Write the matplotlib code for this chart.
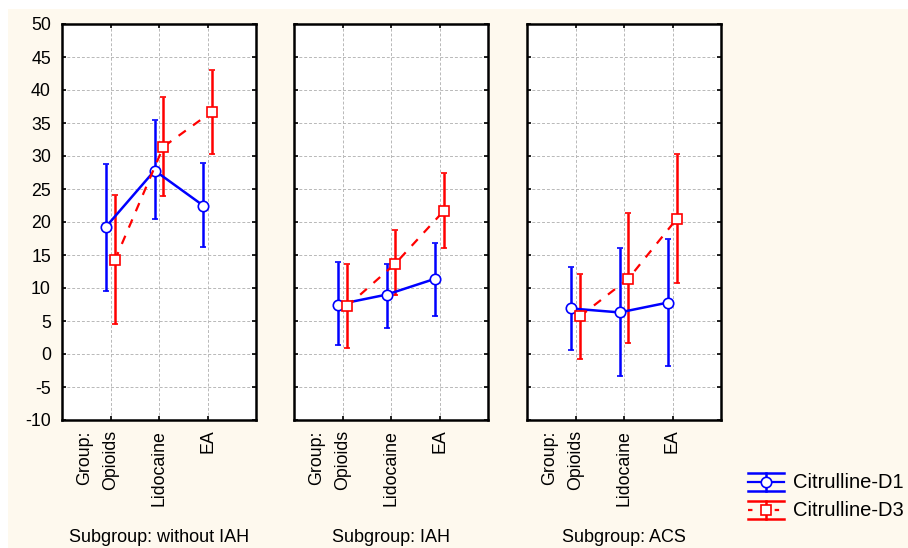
import matplotlib
matplotlib.use("Agg")
import matplotlib.pyplot as plt
import numpy as np
from matplotlib.lines import Line2D
from matplotlib.patches import Rectangle

plt.rcParams['font.family'] = ['Liberation Sans', 'DejaVu Sans']
plt.rcParams['axes.unicode_minus'] = False

# ---- data ----
categories = ["Opioids", "Lidocaine", "EA"]
subgroups = ["Subgroup: without IAH", "Subgroup: IAH", "Subgroup: ACS"]
series_names = ["Citrulline-D1", "Citrulline-D3"]

d1_mean = [[19.3, 27.8, 22.5], [7.5, 9.0, 11.4], [6.9, 6.3, 7.8]]
d1_low = [[9.5, 20.4, 16.2], [1.3, 4.0, 5.7], [0.6, -3.4, -1.8]]
d1_high = [[28.8, 35.4, 28.9], [13.9, 13.7, 16.8], [13.2, 16.0, 17.5]]

d3_mean = [[14.2, 31.4, 36.7], [7.2, 13.7, 21.7], [5.7, 11.4, 20.5]]
d3_low = [[4.6, 23.9, 30.3], [0.9, 8.9, 16.1], [-0.7, 1.7, 10.8]]
d3_high = [[24.1, 39.0, 43.1], [13.7, 18.8, 27.4], [12.1, 21.3, 30.3]]

yticks = list(range(-10, 51, 5))

W, H = 908, 548
fig = plt.figure(figsize=(W / 100, H / 100), dpi=100)
fig.patch.set_facecolor('white')
cream = '#FEF9EE'
fig.add_artist(Rectangle((8 / W, 0), 1 - 8 / W, 1 - 9 / H, transform=fig.transFigure,
                         facecolor=cream, edgecolor='none', zorder=-10))

def fx(px):
    return px / W

def fy(py):
    return 1 - py / H

panel_left = [62, 294, 527]
panel_w = 194
top_px, bot_px = 24, 420
blue, red = '#0000FF', '#FF0000'
off = 0.09
x = np.arange(len(categories))
fs_tick = 12.8

for i in range(3):
    ax = fig.add_axes([fx(panel_left[i]), fy(bot_px), panel_w / W, (bot_px - top_px) / H])
    ax.set_facecolor('white')
    m1 = np.array(d1_mean[i]); l1 = np.array(d1_low[i]); h1 = np.array(d1_high[i])
    m3 = np.array(d3_mean[i]); l3 = np.array(d3_low[i]); h3 = np.array(d3_high[i])
    ax.errorbar(x - off, m1, yerr=[m1 - l1, h1 - m1], color=blue, lw=1.8, elinewidth=1.8,
                capsize=2.5, capthick=1.8, marker='o', ms=7.5, mfc='white', mec=blue, mew=1.2,
                zorder=3)
    ax.errorbar(x + off, m3, yerr=[m3 - l3, h3 - m3], color=red, lw=1.6, elinewidth=1.8,
                capsize=2.5, capthick=1.8, marker='s', ms=7.5, mfc='white', mec=red, mew=1.2,
                ls=(0, (4, 4)), zorder=3)
    ax.set_xlim(-1, 3)
    ax.set_ylim(-10, 50)
    ax.set_yticks(yticks)
    ax.set_xticks(x)
    ax.grid(True, color='#b8b8b8', ls=(0, (3, 2)), lw=0.7)
    ax.set_axisbelow(True)
    for s in ax.spines.values():
        s.set_linewidth(1.8)
        s.set_color('black')
    ax.tick_params(direction='in', length=3, width=1.2, top=True, right=True,
                   labelsize=fs_tick, colors='black')
    ax.tick_params(axis='y', pad=8)
    ax.tick_params(axis='x', pad=7)
    ax.set_xticklabels(categories, rotation=90, va='top', ha='center', fontsize=fs_tick)
    if i > 0:
        ax.set_yticklabels([])
    ax.text(-0.53, -0.026, "Group:", transform=ax.get_xaxis_transform(), rotation=90,
            va='top', ha='center', fontsize=fs_tick)
    fig.text(fx(panel_left[i] + panel_w / 2), fy(538), subgroups[i], ha='center',
             va='center', fontsize=13)

# ---- legend (drawn manually in figure coords) ----
def leg_item(yc, color, ls, marker, label):
    x0, x1 = 748, 784
    xm = (x0 + x1) / 2
    yt, yb = yc - 9, yc + 9
    for yy in (yt, yb):
        fig.add_artist(Line2D([fx(x0), fx(x1)], [fy(yy), fy(yy)], color=color, lw=1.8))
    fig.add_artist(Line2D([fx(xm), fx(xm)], [fy(yt), fy(yb)], color=color, lw=1.8))
    fig.add_artist(Line2D([fx(x0), fx(x1)], [fy(yc), fy(yc)], color=color, lw=1.6, ls=ls))
    fig.add_artist(Line2D([fx(xm)], [fy(yc)], color=color, marker=marker, ms=7.5,
                          mfc='white', mec=color, mew=1.2, ls='none'))
    fig.text(fx(793), fy(yc), label, va='center', ha='left', fontsize=14.5)

leg_item(482, blue, '-', 'o', series_names[0])
leg_item(510, red, (0, (2, 4)), 's', series_names[1])

fig.savefig("out.png", dpi=100, facecolor=fig.get_facecolor())
